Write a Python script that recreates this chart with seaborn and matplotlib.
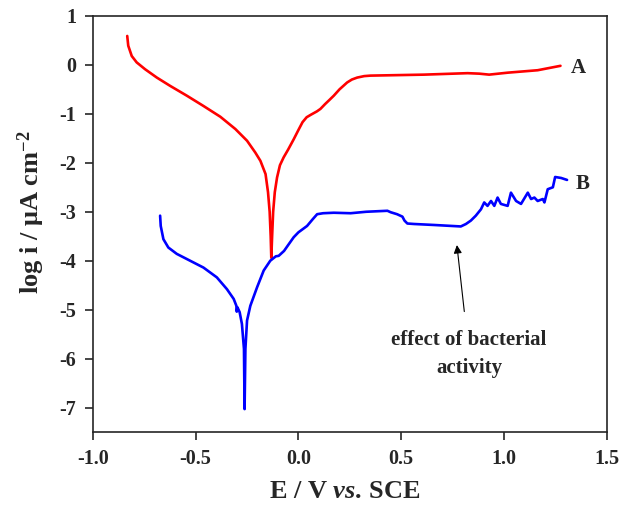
import numpy as np
import pandas as pd
import matplotlib
matplotlib.use("Agg")
import matplotlib.pyplot as plt
import seaborn as sns

# curve A (red)
ea = [-0.833, -0.828, -0.811, -0.787, -0.746, -0.689, -0.624, -0.543, -0.462, -0.380,
      -0.307, -0.25, -0.21, -0.185, -0.16, -0.148, -0.14, -0.135, -0.132, -0.128,
      -0.123, -0.115, -0.104, -0.09, -0.072, -0.05, -0.023, 0.0, 0.02, 0.04,
      0.06, 0.09, 0.107, 0.13, 0.15, 0.172, 0.2, 0.237, 0.26, 0.286,
      0.32, 0.351, 0.611, 0.823, 0.88, 0.928, 1.018, 1.164, 1.275]
log_ia = [0.59, 0.39, 0.18, 0.05, -0.09, -0.26, -0.43, -0.63, -0.84, -1.06,
          -1.31, -1.55, -1.79, -1.96, -2.23, -2.6, -3.0, -3.5, -3.94, -3.5,
          -3.0, -2.6, -2.30, -2.05, -1.89, -1.73, -1.52, -1.33, -1.17, -1.07,
          -1.02, -0.95, -0.90, -0.80, -0.72, -0.63, -0.50, -0.36, -0.30, -0.26,
          -0.23, -0.22, -0.20, -0.17, -0.18, -0.20, -0.16, -0.11, -0.02]

# curve B (blue)
eb = [-0.673, -0.670, -0.657, -0.633, -0.592, -0.527, -0.462, -0.397, -0.348, -0.315,
      -0.302, -0.300, -0.297, -0.286, -0.275, -0.265, -0.262, -0.258, -0.25, -0.234,
      -0.201, -0.169, -0.137, -0.11, -0.096, -0.07, -0.05, -0.023, 0.0, 0.042,
      0.07, 0.091, 0.12, 0.172, 0.254, 0.33, 0.433, 0.449, 0.48, 0.506,
      0.516, 0.53, 0.563, 0.66, 0.79, 0.815, 0.839, 0.863, 0.888, 0.904,
      0.920, 0.937, 0.953, 0.969, 0.985, 1.018, 1.034, 1.059, 1.083, 1.116,
      1.132, 1.148, 1.164, 1.189, 1.197, 1.213, 1.238, 1.249, 1.278, 1.307]
log_ib = [-3.08, -3.29, -3.56, -3.73, -3.86, -4.00, -4.14, -4.34, -4.58, -4.78,
          -4.92, -5.04, -4.95, -5.05, -5.29, -5.8, -7.03, -5.8, -5.22, -4.92,
          -4.54, -4.20, -4.00, -3.91, -3.90, -3.80, -3.68, -3.52, -3.42, -3.29,
          -3.15, -3.05, -3.03, -3.02, -3.03, -3.00, -2.98, -3.01, -3.05, -3.10,
          -3.18, -3.24, -3.25, -3.27, -3.30, -3.25, -3.18, -3.08, -2.95, -2.81,
          -2.88, -2.78, -2.88, -2.71, -2.84, -2.88, -2.61, -2.78, -2.84, -2.61,
          -2.74, -2.71, -2.78, -2.74, -2.81, -2.54, -2.50, -2.29, -2.31, -2.35]

df_a = pd.DataFrame({"E": ea, "logi": log_ia})
df_b = pd.DataFrame({"E": eb, "logi": log_ib})

sns.set_style("ticks")
plt.rcParams["font.family"] = ["Liberation Serif", "DejaVu Serif"]
plt.rcParams["font.weight"] = "bold"
plt.rcParams["mathtext.fontset"] = "custom"
plt.rcParams["mathtext.rm"] = "Liberation Serif:bold"
plt.rcParams["mathtext.bf"] = "Liberation Serif:bold"
plt.rcParams["mathtext.it"] = "Liberation Serif:italic:bold"

fig = plt.figure(figsize=(6.32, 5.12), dpi=100)
ax = fig.add_axes([0.147, 0.156, 0.813, 0.813])

sns.lineplot(data=df_a, x="E", y="logi", sort=False, estimator=None, color="#ff0000", lw=1.9, ax=ax)
sns.lineplot(data=df_b, x="E", y="logi", sort=False, estimator=None, color="#0000ff", lw=1.9, ax=ax)

ax.set_xlim(-1.0, 1.5)
ax.set_ylim(-7.5, 1.0)
ax.set_xticks([-1.0, -0.5, 0.0, 0.5, 1.0, 1.5])
ax.set_xticklabels(["-1.0", "-0.5", "0.0", "0.5", "1.0", "1.5"])
ax.set_yticks(range(-7, 2))
ax.set_yticklabels([str(v) for v in range(-7, 2)])
ax.tick_params(direction="out", length=6, width=1.2, labelsize=14.5, pad=6)
for s in ax.spines.values():
    s.set_linewidth(1.2)
    s.set_visible(True)
for lab in ax.get_xticklabels() + ax.get_yticklabels():
    lab.set_fontweight("bold")

ax.set_xlabel(r"E / V $\mathit{vs.}\,$SCE", fontsize=19, fontweight="bold")
ax.set_ylabel(r"log i / μA cm$^{-2}$", fontsize=19, fontweight="bold")
ax.xaxis.set_label_coords(0.49, -0.115)
ax.yaxis.set_label_coords(-0.089, 0.529)

ax.text(1.36, -0.07, "A", fontsize=15, fontweight="bold", ha="center", va="center")
ax.text(1.384, -2.43, "B", fontsize=15, fontweight="bold", ha="center", va="center")

ax.annotate("effect of bacterial\nactivity", xy=(0.771, -3.68), xytext=(0.83, -5.9),
            ha="center", va="center", fontsize=15, fontweight="bold", linespacing=1.5,
            arrowprops=dict(arrowstyle="-|>", color="black", lw=0.8, mutation_scale=12,
                            shrinkA=11, shrinkB=0))

fig.savefig("out.png", dpi=100)
